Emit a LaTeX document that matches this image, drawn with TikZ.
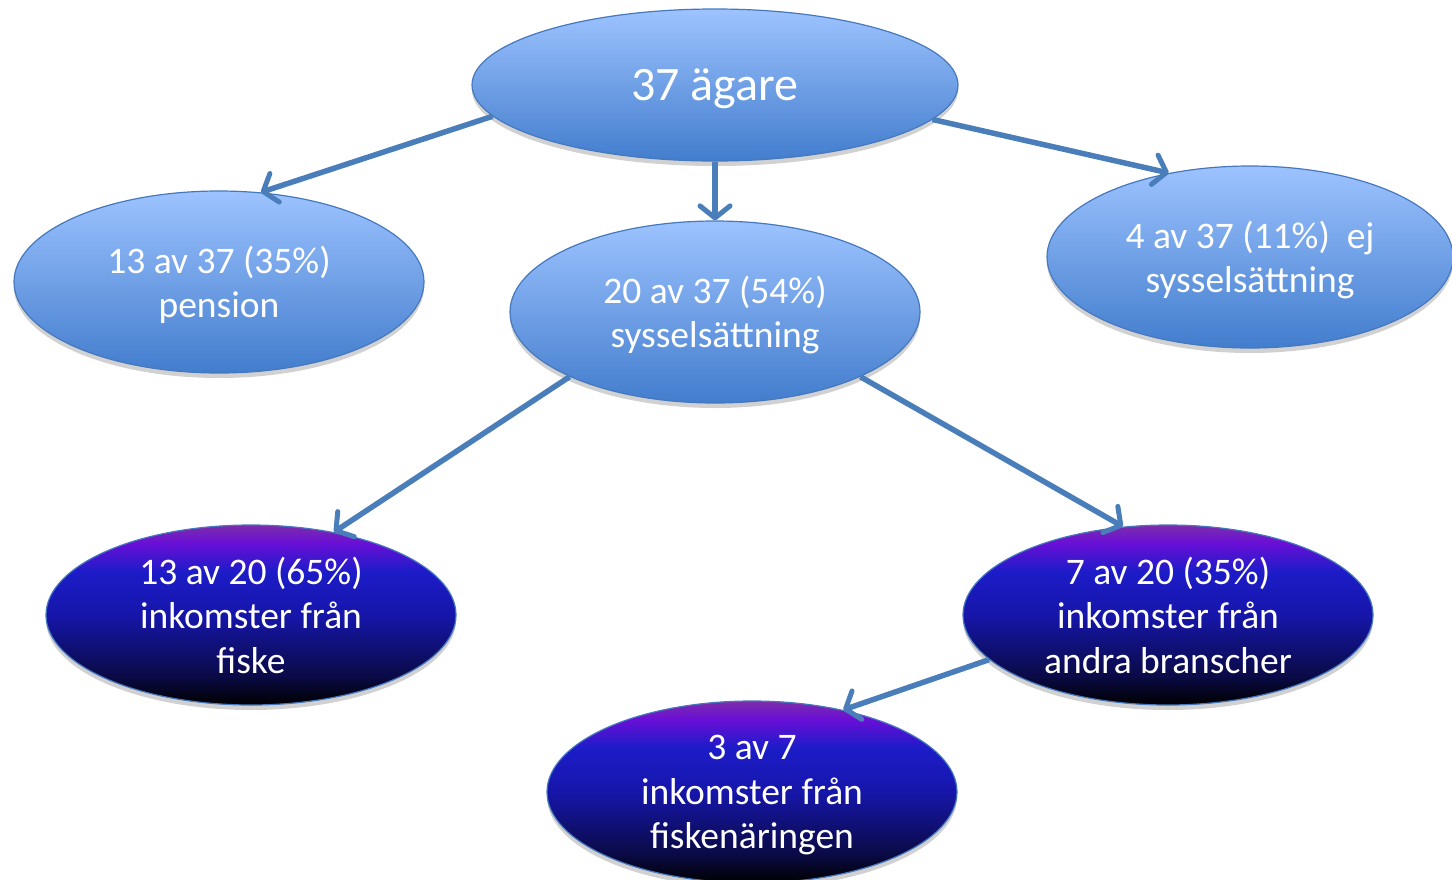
\documentclass[tikz,border=0pt]{standalone}
\usepackage{fontspec}
\setmainfont{Carlito}
\usetikzlibrary{shapes.geometric,arrows.meta,shadows}
\definecolor{arrowblue}{RGB}{74,126,187}
\definecolor{edgeblue}{RGB}{70,120,190}
\definecolor{lighttop}{RGB}{157,195,255}
\definecolor{lightbot}{RGB}{66,125,205}
\pgfdeclareverticalshading{darkshade}{100bp}{%
  color(0bp)=(black); color(25bp)=(black); color(33bp)=(rgb,255:red,10;green,10;blue,70);
  color(50bp)=(rgb,255:red,22;green,22;blue,170); color(62bp)=(rgb,255:red,28;green,28;blue,200);
  color(70bp)=(rgb,255:red,105;green,15;blue,215); color(75bp)=(rgb,255:red,125;green,45;blue,170);
  color(100bp)=(rgb,255:red,125;green,45;blue,170)}
\tikzset{
  ell/.style={ellipse, inner sep=0pt, draw=edgeblue, line width=1.2pt, text=white,
    align=center, font=\fontsize{37.5}{44.5}\selectfont, text depth=0pt,
    drop shadow={shadow xshift=0pt, shadow yshift=-5pt, opacity=0.18, fill=black}},
  lightell/.style={ell, top color=lighttop, bottom color=lightbot},
  darkell/.style={ell, shading=darkshade},
  conn/.style={draw=arrowblue, line width=5.5pt,
    -{Straight Barb[length=12pt,width=30pt,line width=5pt,round]}},
}
\begin{document}
\begin{tikzpicture}[x=1pt,y=-1pt]
\useasboundingbox (0,0) rectangle (1452,879);
\clip (0,0) rectangle (1452,879);
\node[lightell, minimum width=486pt, minimum height=152pt, font=\fontsize{48}{56}\selectfont, text depth=-6pt] (top) at (715,85) {37 ägare};
\node[lightell, minimum width=410pt, minimum height=182pt] (pension) at (219,282) {13 av 37 (35\%)\\pension};
\node[lightell, minimum width=410pt, minimum height=182pt] (mid) at (715,312) {20 av 37 (54\%)\\sysselsättning};
\node[lightell, minimum width=406pt, minimum height=182pt] (ej) at (1250,257) {4 av 37 (11\%)\ \ ej\\sysselsättning};
\node[darkell, minimum width=410pt, minimum height=180pt] (fiske) at (251,615) {13 av 20 (65\%)\\inkomster från\\fiske};
\node[darkell, minimum width=410pt, minimum height=180pt] (andra) at (1168,615) {7 av 20 (35\%)\\inkomster från\\andra branscher};
\node[darkell, minimum width=410pt, minimum height=182pt] (bot) at (752,792) {3 av 7\\inkomster från\\fiskenäringen};
\draw[conn] (top.188.6) -- (pension.65);
\draw[conn] (top.south) -- (mid.north);
\draw[conn] (top.351.1) -- (ej.134);
\draw[conn] (mid.204.1) -- (fiske.45);
\draw[conn] (mid.336.1) -- (andra.117);
\draw[conn] (andra.194) -- (bot.42);
\end{tikzpicture}
\end{document}
